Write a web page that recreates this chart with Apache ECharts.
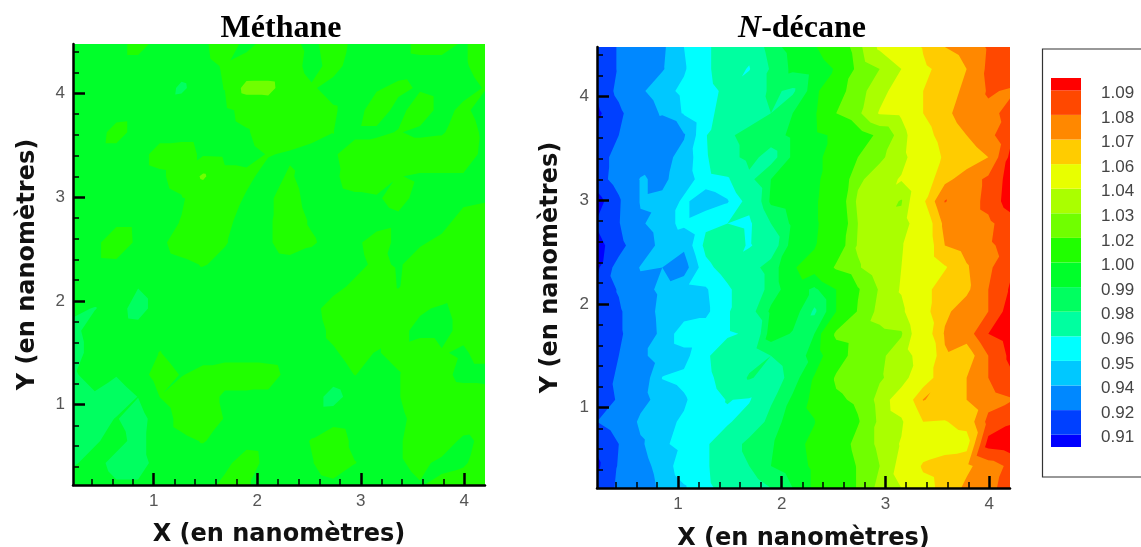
<!DOCTYPE html>
<html>
<head>
<meta charset="utf-8">
<style>html,body{margin:0;padding:0;background:#fff}#c{width:1141px;height:547px}</style>
<script src="https://cdn.jsdelivr.net/npm/echarts@6/dist/echarts.min.js"></script>
</head>
<body>
<div id="c"></div>
<script>
const xNodes = [0.220,0.430,0.639,0.849,1.058,1.268,1.477,1.687,1.896,2.106,2.315,2.525,2.734,2.944,3.153,3.363,3.572,3.782,3.991,4.200];
const yNodes = [4.474,4.262,4.049,3.837,3.624,3.412,3.200,2.987,2.775,2.562,2.350,2.138,1.925,1.713,1.500,1.288,1.076,0.863,0.651,0.438,0.226];
const levels = [0.91,0.92,0.94,0.95,0.96,0.98,0.99,1.00,1.02,1.03,1.04,1.06,1.07,1.08,1.09];
const levelLabels = ['0.91','0.92','0.94','0.95','0.96','0.98','0.99','1.00','1.02','1.03','1.04','1.06','1.07','1.08','1.09'];
const bandColors = ['#0000ff','#0040ff','#0088ff','#00c8ff','#00ffff','#00ffa0','#00ff60','#00ff2a','#20ff00','#70ff00','#aaff00','#e8ff00','#ffcc00','#ff8800','#ff4800','#ff0000'];
const majorTicks = [1,2,3,4];
const minorTicksX = [0.4,0.6,0.8,1.2,1.4,1.6,1.8,2.2,2.4,2.6,2.8,3.2,3.4,3.6,3.8];
const minorTicksY = [0.4,0.6,0.8,1.2,1.4,1.6,1.8,2.2,2.4,2.6,2.8,3.2,3.4,3.6,3.8,4.2,4.4];

const methane = [
[.995,.996,.996,1.004,.996,.995,.998,1.006,.997,1.004,1.002,.998,1.004,.998,.996,.996,1.003,1.003,.999,1.004],
[.995,.995,.996,.996,.995,.995,.997,1.001,1.005,1.006,1.004,.997,1.003,.996,.996,.996,.997,.997,.999,1.003],
[.995,.996,.995,.995,.996,.988,.996,1.0003,1.027,1.027,1.006,1.001,.997,.996,.999,1.002,.999,.997,.997,1.0005],
[.996,.995,.995,.996,.995,.996,.996,.997,1.004,1.006,1.006,1.005,1.001,.996,1.005,.997,1.005,.997,1.002,.996],
[.995,.995,1.004,.996,.996,.996,.996,.996,.999,1.005,1.005,1.003,1.0001,.998,.998,1.0005,.998,.999,1.005,.998],
[.995,.996,.996,.996,1.004,1.005,.998,.997,.997,1.0005,.999,.997,.999,1.004,1.006,1.006,1.006,1.006,1.006,.997],
[.995,.995,.996,.996,.998,1.005,1.023,1.003,1.002,.997,1.001,.996,.998,1.005,1.005,1.0003,.999,.999,.999,.996],
[.995,.995,.995,.996,.996,.999,1.005,1.005,.999,.999,1.003,.997,.996,.998,.999,1.003,.997,.996,.998,.999],
[.995,.996,.995,.995,.997,1.0003,1.005,1.002,.997,.999,1.004,.999,.996,.996,.996,.998,.996,.997,1.003,1.004],
[.995,.995,1.012,.996,.998,1.004,1.006,1.0005,.997,.999,1.004,1.001,.997,.998,1.004,.998,.999,1.002,1.001,1.005],
[.995,.995,.996,.996,.996,.998,1.0005,.998,.996,.996,.997,.996,.996,.997,1.002,.999,1.004,1.005,1.005,1.006],
[.995,.996,.996,.9905,.996,.996,.995,.996,.995,.996,.996,.996,.997,1.002,1.006,.9995,1.005,1.005,1.003,1.006],
[.992,.9895,.995,.985,.996,.995,.996,.996,.996,.995,.996,.997,1.004,1.006,1.006,1.005,1.001,.999,1.002,1.006],
[.987,.995,.996,.995,.996,.996,.995,.996,.996,.996,.995,.996,1.002,1.006,1.006,1.002,.998,.998,1.002,1.006],
[.985,.995,.996,.996,1.0003,.996,.996,.996,.996,.996,.995,.996,.999,1.003,.9995,1.002,1.004,1.0005,.999,1.003],
[.989,.993,.9905,.996,1.004,.9995,1.003,1.005,1.005,1.004,.997,.996,.996,1.0002,.997,.9995,1.005,1.003,.997,.997],
[.985,.989,.985,.9902,1.0001,1.005,1.006,.998,.998,.998,.996,.996,.985,.996,.997,.9995,1.005,1.006,1.005,1.004],
[.985,.986,.9905,.986,.995,1.003,1.006,.9995,.996,.996,.995,.996,.997,.996,.996,.998,1.003,1.006,1.006,1.005],
[.986,.989,.993,.987,.995,.998,1.0005,.997,.996,.995,.996,1.0005,1.005,.998,.997,.999,1.004,1.005,.998,1.002],
[.989,.993,.987,.987,.993,.996,.996,.997,1.006,.996,.995,.9995,1.005,1.0002,.997,.999,1.002,.998,.999,1.004],
[.995,.995,.991,.991,.995,.996,.995,1.003,1.001,.996,.996,.996,.998,.996,.996,.997,.9995,1.002,1.004,1.004]
];

const decane = [
[.912,.921,.928,.938,.950,.958,.966,.965,.987,.993,.999,1.008,1.027,1.042,1.052,1.061,1.070,1.074,1.081,1.086],
[.912,.921,.928,.939,.949,.958,.966,.959,.982,.992,.994,1.001,1.024,1.030,1.040,1.058,1.063,1.070,1.082,1.086],
[.911,.923,.938,.947,.952,.957,.962,.972,.982,.978,.996,1.015,1.026,1.036,1.046,1.060,1.066,1.072,1.081,1.079],
[.908,.917,.930,.942,.951,.958,.963,.974,.980,.990,.998,1.020,1.028,1.041,1.042,1.060,1.068,1.074,1.078,1.082],
[.912,.920,.926,.920,.939,.959,.978,.984,.986,.992,.997,1.002,1.015,1.022,1.034,1.055,1.065,1.070,1.077,1.087],
[.915,.924,.930,.936,.944,.958,.975,.984,.975,.992,.997,1.005,1.020,1.028,1.036,1.050,1.062,1.064,1.070,1.092],
[.915,.925,.941,.938,.945,.955,.958,.977,.990,.995,.997,1.008,1.028,1.035,1.041,1.053,1.067,1.075,1.082,1.094],
[.906,.918,.941,.942,.952,.944,.949,.965,.992,.995,.998,1.010,1.032,1.037,1.029,1.058,1.0805,1.075,1.083,1.095],
[.911,.919,.938,.947,.952,.958,.960,.957,.980,.992,.998,1.008,1.030,1.033,1.034,1.050,1.073,1.075,1.078,1.085],
[.907,.915,.930,.945,.942,.963,.970,.958,.972,.995,.999,1.012,1.031,1.036,1.039,1.050,1.070,1.074,1.079,1.082],
[.908,.925,.941,.940,.935,.957,.965,.975,.985,.999,1.005,1.022,1.029,1.036,1.040,1.050,1.059,1.069,1.078,1.088],
[.912,.921,.935,.943,.948,.949,.958,.968,.985,.996,.988,1.000,1.019,1.031,1.041,1.056,1.066,1.068,1.080,1.091],
[.912,.918,.930,.945,.946,.948,.958,.975,.992,.996,.978,1.000,1.021,1.033,1.037,1.056,1.068,1.075,1.080,1.095],
[.913,.918,.928,.944,.955,.955,.958,.962,.996,.989,.990,1.023,1.026,1.028,1.029,1.052,1.071,1.075,1.090,1.095],
[.912,.920,.938,.944,.947,.958,.968,.972,.980,.987,.992,1.012,1.027,1.028,1.035,1.045,1.069,1.064,1.080,1.092],
[.913,.922,.932,.9503,.952,.957,.965,.982,.972,.985,1.001,1.022,1.025,1.029,1.034,1.052,1.069,1.070,1.080,1.088],
[.915,.921,.935,.946,.949,.955,.9605,.9585,.978,.992,1.003,1.018,1.022,1.033,1.048,1.0705,1.066,1.070,1.076,1.079],
[.920,.925,.943,.948,.951,.956,.958,.968,.985,.995,.9995,1.012,1.019,1.032,1.038,1.060,1.0595,1.063,1.083,1.089],
[.912,.920,.938,.949,.952,.958,.970,.985,.989,.996,1.003,1.012,1.024,1.032,1.041,1.050,1.055,1.056,1.094,1.096],
[.908,.921,.935,.945,.955,.958,.970,.980,.990,.995,1.002,1.010,1.021,1.030,1.044,1.062,1.065,1.068,1.075,1.082],
[.912,.922,.932,.943,.949,.957,.965,.973,.980,.990,1.002,1.009,1.021,1.033,1.040,1.055,1.064,1.072,1.078,1.083]
];

function clipAbove(poly, level) {
  const out = [];
  for (let i = 0; i < poly.length; i++) {
    const a = poly[i], b = poly[(i + 1) % poly.length];
    const ina = a[2] >= level, inb = b[2] >= level;
    if (ina) out.push(a);
    if (ina !== inb) {
      const t = (level - a[2]) / (b[2] - a[2]);
      out.push([a[0] + t * (b[0] - a[0]), a[1] + t * (b[1] - a[1]), level]);
    }
  }
  return out;
}

function contourSeries(field, idx) {
  const tris = [];
  for (let k = 0; k < yNodes.length - 1; k++) {
    for (let j = 0; j < xNodes.length - 1; j++) {
      const P = (c, r) => [xNodes[c], yNodes[r], field[r][c]];
      tris.push([P(j, k), P(j + 1, k), P(j, k + 1)]);
      tris.push([P(j + 1, k), P(j + 1, k + 1), P(j, k + 1)]);
    }
  }
  return {
    type: 'custom', xAxisIndex: idx * 2, yAxisIndex: idx * 2, z: 1, clip: true, silent: true,
    animation: false, progressive: 0,
    data: bandColors.map((c, b) => [xNodes[0], yNodes[0], b]),
    encode: { x: 0, y: 1 },
    renderItem(params, api) {
      const b = api.value(2);
      let d = '', minX = Infinity, minY = Infinity, maxX = -Infinity, maxY = -Infinity;
      tris.forEach(tri => {
        const poly = b > 0 ? clipAbove(tri, levels[b - 1]) : tri;
        if (poly.length < 3) return;
        poly.forEach((p, i) => {
          const c = api.coord([p[0], p[1]]);
          minX = Math.min(minX, c[0]); maxX = Math.max(maxX, c[0]);
          minY = Math.min(minY, c[1]); maxY = Math.max(maxY, c[1]);
          d += (i ? 'L' : 'M') + c[0].toFixed(2) + ' ' + c[1].toFixed(2);
        });
        d += 'Z';
      });
      if (!d) return null;
      return {
        type: 'path',
        shape: { pathData: d, layout: 'cover', x: minX, y: minY, width: maxX - minX, height: maxY - minY },
        style: { fill: bandColors[b] }
      };
    }
  };
}

const tickFont = { fontFamily: 'Liberation Sans', fontSize: 17, color: '#555' };
const nameFont = { fontFamily: 'DejaVu Sans', fontWeight: 'bold', fontSize: 24, color: '#111' };
const AXMIN_X = 0.22, AXMAX_X = 4.2, AXMIN_Y = 0.226, AXMAX_Y = 4.474;
const LABEL_SHIFT = 0.12;

function axesFor(dim, gridIndex, name, minor, min, max, nameGap) {
  const common = { type: 'value', gridIndex, min, max, z: 10, splitLine: { show: false } };
  common.position = dim === 'y' ? 'left' : 'bottom';
  return [
    Object.assign({}, common, {
      name, nameLocation: 'middle', nameGap, nameTextStyle: nameFont,
      axisLine: { show: true, onZero: false, lineStyle: { color: '#000', width: 2.5 } },
      axisTick: { show: true, inside: true, length: 12, customValues: majorTicks, lineStyle: { color: '#000', width: 2.5 } },
      axisLabel: Object.assign({ show: true, margin: 8, customValues: majorTicks, formatter: v => String(v) }, tickFont)
    }),
    Object.assign({}, common, {
      axisLine: { show: false, onZero: false },
      axisTick: { show: true, inside: true, length: 6, customValues: minor, lineStyle: { color: '#000', width: 1.5 } },
      axisLabel: { show: false }
    })
  ];
}

const xAxis = [
  ...axesFor('x', 0, 'X (en nanomètres)', minorTicksX, AXMIN_X, AXMAX_X, 38),
  ...axesFor('x', 1, 'X (en nanomètres)', minorTicksX, AXMIN_X, AXMAX_X, 39),
  { type: 'value', gridIndex: 2, min: 0, max: 1, show: false }
];
const yAxis = [
  ...axesFor('y', 0, 'Y (en nanomètres)', minorTicksY, AXMIN_Y, AXMAX_Y, 33),
  ...axesFor('y', 1, 'Y (en nanomètres)', minorTicksY, AXMIN_Y, AXMAX_Y, 34),
  {
    type: 'value', gridIndex: 2, position: 'right', min: -0.5, max: levels.length - 0.5, z: 10,
    splitLine: { show: false }, axisLine: { show: false, onZero: false }, axisTick: { show: false },
    axisLabel: Object.assign({
      show: true, margin: 20, customValues: levels.map((_, i) => i - LABEL_SHIFT),
      formatter: v => levelLabels[Math.round(v + LABEL_SHIFT)] ?? ''
    }, tickFont, { color: '#444' })
  }
];

const legendSeries = {
  type: 'custom', xAxisIndex: 4, yAxisIndex: 4, z: 1, silent: true, animation: false,
  encode: { x: 0, y: 1 },
  data: bandColors.map((c, i) => [0, i]),
  renderItem(params, api) {
    const i = api.value(1);
    const lo = i === 0 ? -0.5 : i - 1;
    const hi = i === levels.length ? levels.length - 0.5 : i;
    const a = api.coord([0, lo]), b = api.coord([1, hi]);
    return { type: 'rect', shape: { x: a[0], y: b[1], width: b[0] - a[0], height: a[1] - b[1] }, style: { fill: bandColors[i] } };
  }
};

const chart = echarts.init(document.getElementById('c'), null, { renderer: 'canvas' });
chart.setOption({
  backgroundColor: '#fff',
  animation: false,
  title: [
    {
      text: 'Méthane', left: 276, top: 8, textAlign: 'center',
      textStyle: { fontFamily: 'Liberation Serif', fontWeight: 'bold', fontSize: 32, color: '#000' }
    },
    {
      text: '{i|N}{b|-décane}', left: 797, top: 8, textAlign: 'center',
      textStyle: {
        rich: {
          i: { fontFamily: 'Liberation Serif', fontWeight: 'bold', fontStyle: 'italic', fontSize: 32, color: '#000' },
          b: { fontFamily: 'Liberation Serif', fontWeight: 'bold', fontSize: 32, color: '#000' }
        }
      }
    }
  ],
  grid: [
    { left: 73, top: 44, width: 412, height: 441, outerBoundsMode: 'none' },
    { left: 597, top: 47, width: 413, height: 441, outerBoundsMode: 'none' },
    { left: 1051, top: 78, width: 30, height: 369, outerBoundsMode: 'none' }
  ],
  xAxis, yAxis,
  series: [contourSeries(methane, 0), contourSeries(decane, 1), legendSeries],
  graphic: [{
    type: 'polyline', silent: true,
    shape: { points: [[1141, 49], [1042.5, 49], [1042.5, 477], [1141, 477]] },
    style: { stroke: '#333', lineWidth: 1.2, fill: null }
  }]
});
</script>
</body>
</html>
